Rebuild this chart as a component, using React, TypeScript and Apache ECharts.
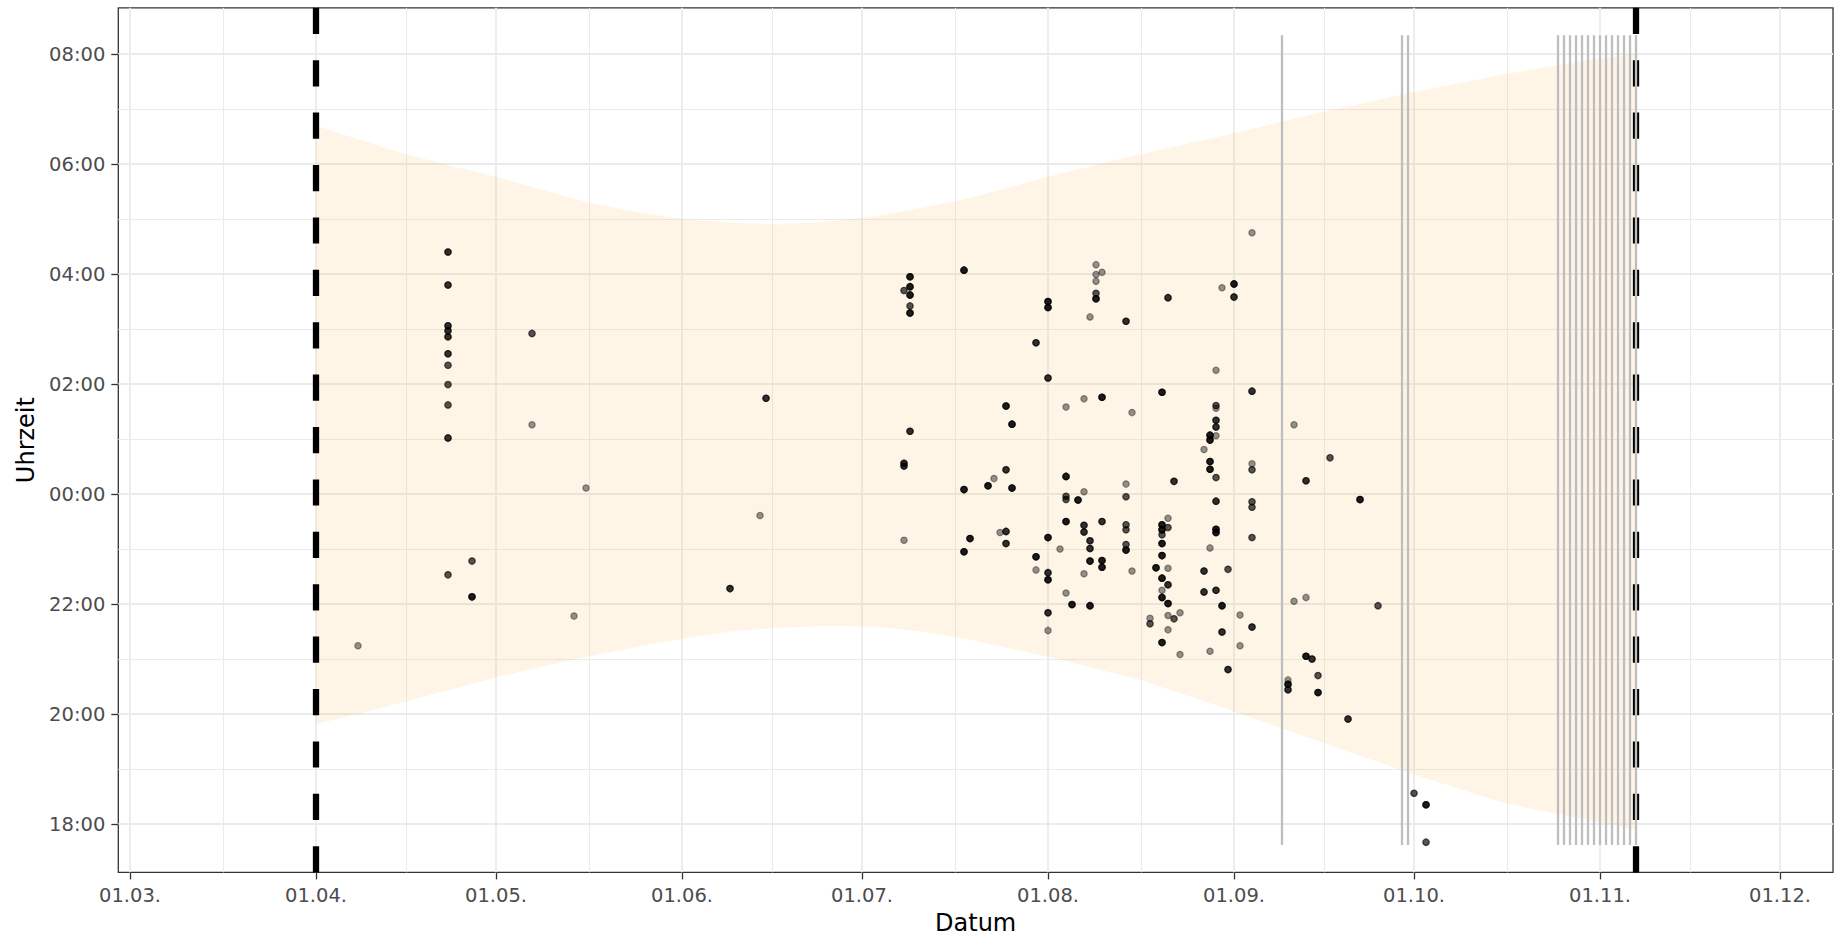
import { useEffect, useRef } from "react";
import * as echarts from "echarts";

// ---- axis breaks (day of year, non-leap year; hours relative to midnight) ----
const monthStartDays = [60, 91, 121, 152, 182, 213, 244, 274, 305, 335];
const monthTickLabels = ["01.03.", "01.04.", "01.05.", "01.06.", "01.07.", "01.08.", "01.09.", "01.10.", "01.11.", "01.12."];
const minorDayBreaks = [75.5, 106, 136.5, 167, 197.5, 228.5, 259, 289.5, 320];
const hourTicks = [-6, -4, -2, 0, 2, 4, 6, 8];
const hourTickLabels = ["18:00", "20:00", "22:00", "00:00", "02:00", "04:00", "06:00", "08:00"];
const minorHourBreaks = [-5, -3, -1, 1, 3, 5, 7];

const xMin = 58.05;
const xMax = 343.83;
const yMin = -6.88;
const yMax = 8.84;

// ---- season boundaries (dashed) and marker days (grey segments) ----
const seasonBoundaryDays = [91, 311];
const markerDays = [252, 272, 273, 298, 299, 300, 301, 302, 303, 304, 305, 306, 307, 308, 309, 310, 311];
const markerLow = -6.38;
const markerHigh = 8.34;

// ---- ribbon (night band) ----
const ribbonDays = [91, 98, 105, 113, 121, 129, 137, 145, 152, 160, 168, 176, 184, 192, 200, 213, 228, 244, 259, 274, 289, 304, 311];
const ribbonUpper = [6.7, 6.45, 6.21, 5.98, 5.77, 5.52, 5.28, 5.12, 5.0, 4.93, 4.9, 4.95, 5.05, 5.2, 5.38, 5.77, 6.17, 6.56, 6.95, 7.31, 7.63, 7.9, 8.0];
const ribbonLower = [-4.18, -4.0, -3.8, -3.57, -3.33, -3.13, -2.94, -2.77, -2.63, -2.5, -2.43, -2.4, -2.41, -2.5, -2.65, -2.96, -3.37, -3.95, -4.53, -5.1, -5.62, -5.95, -6.1];

// ---- observations: [day of year, hour relative to midnight, number of records] ----
const observations: [number, number, number][] = [
  [98, -2.76, 1],
  [113, 4.4, 3], [113, 3.8, 3], [113, 3.06, 3], [113, 2.97, 3], [113, 2.86, 3], [113, 2.55, 3],
  [113, 2.34, 2], [113, 1.99, 2], [113, 1.62, 2], [113, 1.02, 3], [113, -1.47, 2],
  [117, -1.22, 2], [117, -1.87, 4],
  [127, 2.92, 2], [127, 1.26, 1],
  [134, -2.22, 1], [136, 0.11, 1],
  [160, -1.72, 3], [165, -0.39, 1], [166, 1.74, 3],
  [189, 3.7, 2], [190, 3.95, 4], [190, 3.77, 4], [190, 3.62, 4], [190, 3.42, 2], [190, 3.29, 4],
  [190, 1.14, 3], [189, 0.56, 3], [189, 0.51, 3], [189, -0.84, 1],
  [199, 4.07, 4], [199, 0.08, 4], [199, -1.05, 4], [200, -0.81, 4],
  [203, 0.15, 4], [204, 0.28, 1], [205, -0.7, 1],
  [206, 1.6, 4], [206, 0.44, 3], [206, -0.68, 3], [206, -0.9, 3],
  [207, 1.27, 4], [207, 0.11, 4],
  [211, 2.75, 3], [211, -1.14, 4], [211, -1.38, 1],
  [213, 3.5, 4], [213, 3.39, 4], [213, 2.11, 3], [213, -0.79, 4], [213, -1.43, 3], [213, -1.56, 4],
  [213, -2.16, 3], [213, -2.48, 1],
  [215, -1.0, 1],
  [216, 1.58, 1], [216, 0.32, 4], [216, -0.04, 2], [216, -0.1, 2], [216, -0.5, 4], [216, -1.8, 1],
  [217, -2.01, 4], [218, -0.11, 4],
  [219, 1.73, 1], [219, 0.04, 1], [219, -0.57, 3], [219, -0.69, 3], [219, -1.45, 1],
  [220, 3.22, 1], [220, -0.85, 3], [220, -0.99, 3], [220, -1.22, 4], [220, -2.03, 4],
  [221, 4.17, 1], [221, 3.99, 1], [221, 3.87, 1], [221, 3.65, 2], [221, 3.55, 4],
  [222, 4.03, 1], [222, 1.76, 4], [222, -0.5, 3], [222, -1.21, 4], [222, -1.33, 4],
  [226, 3.14, 3], [226, 0.18, 1], [226, -0.05, 2], [226, -0.56, 2], [226, -0.65, 2], [226, -0.92, 2], [226, -1.02, 4],
  [227, 1.48, 1], [227, -1.4, 1],
  [230, -2.26, 1], [230, -2.36, 2], [231, -1.34, 4],
  [232, 1.85, 4], [232, -0.56, 4], [232, -0.65, 4], [232, -0.74, 2], [232, -0.9, 4], [232, -1.12, 4],
  [232, -1.53, 4], [232, -1.75, 1], [232, -1.88, 4], [232, -2.7, 4],
  [233, 3.57, 3], [233, -0.44, 1], [233, -0.61, 2], [233, -1.35, 1], [233, -1.65, 3], [233, -1.99, 4],
  [233, -2.21, 1], [233, -2.47, 1],
  [234, 0.23, 3], [234, -2.27, 2], [235, -2.16, 1], [235, -2.92, 1],
  [239, 0.81, 1], [239, -1.4, 3], [239, -1.78, 3],
  [240, 1.07, 4], [240, 0.98, 4], [240, 0.59, 4], [240, 0.45, 4], [240, -0.98, 1], [240, -2.86, 1],
  [241, 2.25, 1], [241, 1.61, 2], [241, 1.56, 1], [241, 1.34, 3], [241, 1.22, 3], [241, 1.06, 1],
  [241, 0.3, 2], [241, -0.13, 3], [241, -0.64, 4], [241, -0.7, 4], [241, -1.75, 3],
  [242, 3.75, 1], [242, -2.03, 4], [242, -2.51, 3],
  [243, -1.37, 2], [243, -3.19, 3],
  [244, 3.82, 4], [244, 3.58, 3],
  [245, -2.2, 1], [245, -2.76, 1],
  [247, 4.75, 1], [247, 1.87, 3], [247, 0.55, 1], [247, 0.44, 2], [247, -0.14, 2], [247, -0.24, 2],
  [247, -0.79, 2], [247, -2.42, 3],
  [253, -3.38, 1], [253, -3.46, 4], [253, -3.56, 3],
  [254, 1.26, 1], [254, -1.95, 1],
  [256, 0.24, 3], [256, -1.88, 1], [256, -2.95, 4], [257, -3.0, 3],
  [258, -3.3, 2], [258, -3.61, 4],
  [260, 0.66, 2], [263, -4.09, 3], [265, -0.1, 4], [268, -2.03, 2],
  [274, -5.44, 2], [276, -5.65, 4], [276, -6.33, 2],
];

const FONT = "DejaVu Sans";

function fmtDay(v: number) {
  const i = monthStartDays.indexOf(v);
  return i >= 0 ? monthTickLabels[i] : "";
}
function fmtHour(v: number) {
  const i = hourTicks.indexOf(v);
  return i >= 0 ? hourTickLabels[i] : "";
}

export default function App() {
  const ref = useRef<HTMLDivElement>(null);

  useEffect(() => {
    if (!ref.current) return;
    const chart = echarts.init(ref.current, undefined, { renderer: "svg" });

    const points: number[][] = [];
    observations.forEach(([d, h, n]) => {
      for (let k = 0; k < n; k++) points.push([d, h]);
    });

    const gridLine = { color: "#EBEBEB" };

    const series: any[] = [
      {
        type: "custom",
        coordinateSystem: "cartesian2d",
        xAxisIndex: 0,
        yAxisIndex: 0,
        silent: true,
        z: 1,
        clip: true,
        data: ribbonDays.map((d, i) => [d, ribbonUpper[i], ribbonLower[i]]),
        encode: { x: 0, y: [1, 2] },
        renderItem: (params: any, api: any) => {
          if (params.dataIndex !== 0) return null;
          const pts: number[][] = [];
          for (let i = 0; i < ribbonDays.length; i++) pts.push(api.coord([ribbonDays[i], ribbonUpper[i]]));
          for (let i = ribbonDays.length - 1; i >= 0; i--) pts.push(api.coord([ribbonDays[i], ribbonLower[i]]));
          return {
            type: "polygon",
            shape: { points: pts },
            style: { fill: "rgba(245,170,60,0.12)", stroke: "none" },
          };
        },
      },
    ];

    seasonBoundaryDays.forEach((d) => {
      series.push({
        type: "line",
        xAxisIndex: 0,
        yAxisIndex: 0,
        silent: true,
        z: 2,
        symbol: "none",
        data: [[d, yMin], [d, yMax]],
        lineStyle: { color: "#000000", width: 6.3, type: [26.2, 26.2], cap: "butt" },
      });
    });

    markerDays.forEach((d) => {
      series.push({
        type: "line",
        xAxisIndex: 0,
        yAxisIndex: 0,
        silent: true,
        z: 3,
        symbol: "none",
        data: [[d, markerLow], [d, markerHigh]],
        lineStyle: { color: "#BEBEBE", width: 2.3 },
      });
    });

    series.push({
      type: "scatter",
      xAxisIndex: 0,
      yAxisIndex: 0,
      silent: true,
      z: 4,
      symbol: "circle",
      symbolSize: 6.4,
      data: points,
      itemStyle: {
        color: "rgba(0,0,0,0.42)",
        borderColor: "rgba(0,0,0,0.42)",
        borderWidth: 1.1,
        opacity: 1,
      },
    });

    chart.setOption({
      animation: false,
      backgroundColor: "#ffffff",
      textStyle: { fontFamily: FONT },
      grid: {
        left: 118.3,
        top: 7.8,
        width: 1714.7,
        height: 864.6,
        show: true,
        borderColor: "#333333",
        borderWidth: 1.3,
        backgroundColor: "transparent",
        containLabel: false,
        outerBoundsMode: "none",
      },
      xAxis: [
        {
          type: "value",
          gridIndex: 0,
          min: xMin,
          max: xMax,
          position: "bottom",
          axisLine: { show: false, onZero: false },
          axisTick: { show: true, length: 7, lineStyle: { color: "#333333", width: 1.3 }, customValues: monthStartDays },
          axisLabel: {
            show: true,
            customValues: monthStartDays,
            formatter: (v: number) => fmtDay(v),
            color: "#4D4D4D",
            fontFamily: FONT,
            fontSize: 19.5,
            margin: 13,
          },
          splitLine: { show: true, lineStyle: { ...gridLine, width: 1.8 } },
          name: "Datum",
          nameLocation: "middle",
          nameGap: 39,
          nameTextStyle: { color: "#000000", fontFamily: FONT, fontSize: 24 },
        },
        {
          type: "value",
          gridIndex: 0,
          min: xMin,
          max: xMax,
          position: "top",
          axisLine: { show: false, onZero: false },
          axisTick: { show: false, customValues: minorDayBreaks },
          axisLabel: { show: false, customValues: minorDayBreaks },
          splitLine: { show: true, lineStyle: { ...gridLine, width: 1.0 } },
        },
      ],
      yAxis: [
        {
          type: "value",
          gridIndex: 0,
          min: yMin,
          max: yMax,
          position: "left",
          axisLine: { show: false, onZero: false },
          axisTick: { show: true, length: 7, lineStyle: { color: "#333333", width: 1.3 }, customValues: hourTicks },
          axisLabel: {
            show: true,
            customValues: hourTicks,
            formatter: (v: number) => fmtHour(v),
            color: "#4D4D4D",
            fontFamily: FONT,
            fontSize: 19.5,
            margin: 13,
          },
          splitLine: { show: true, lineStyle: { ...gridLine, width: 1.8 } },
          name: "Uhrzeit",
          nameLocation: "middle",
          nameGap: 80,
          nameRotate: 90,
          nameTextStyle: { color: "#000000", fontFamily: FONT, fontSize: 24 },
        },
        {
          type: "value",
          gridIndex: 0,
          min: yMin,
          max: yMax,
          position: "right",
          axisLine: { show: false, onZero: false },
          axisTick: { show: false, customValues: minorHourBreaks },
          axisLabel: { show: false, customValues: minorHourBreaks },
          splitLine: { show: true, lineStyle: { ...gridLine, width: 1.0 } },
        },
      ],
      series,
    });

    return () => {
      chart.dispose();
    };
  }, []);

  return (
    <div
      ref={ref}
      style={{ position: "absolute", left: 0, top: 0, width: 1845, height: 945 }}
    />
  );
}
